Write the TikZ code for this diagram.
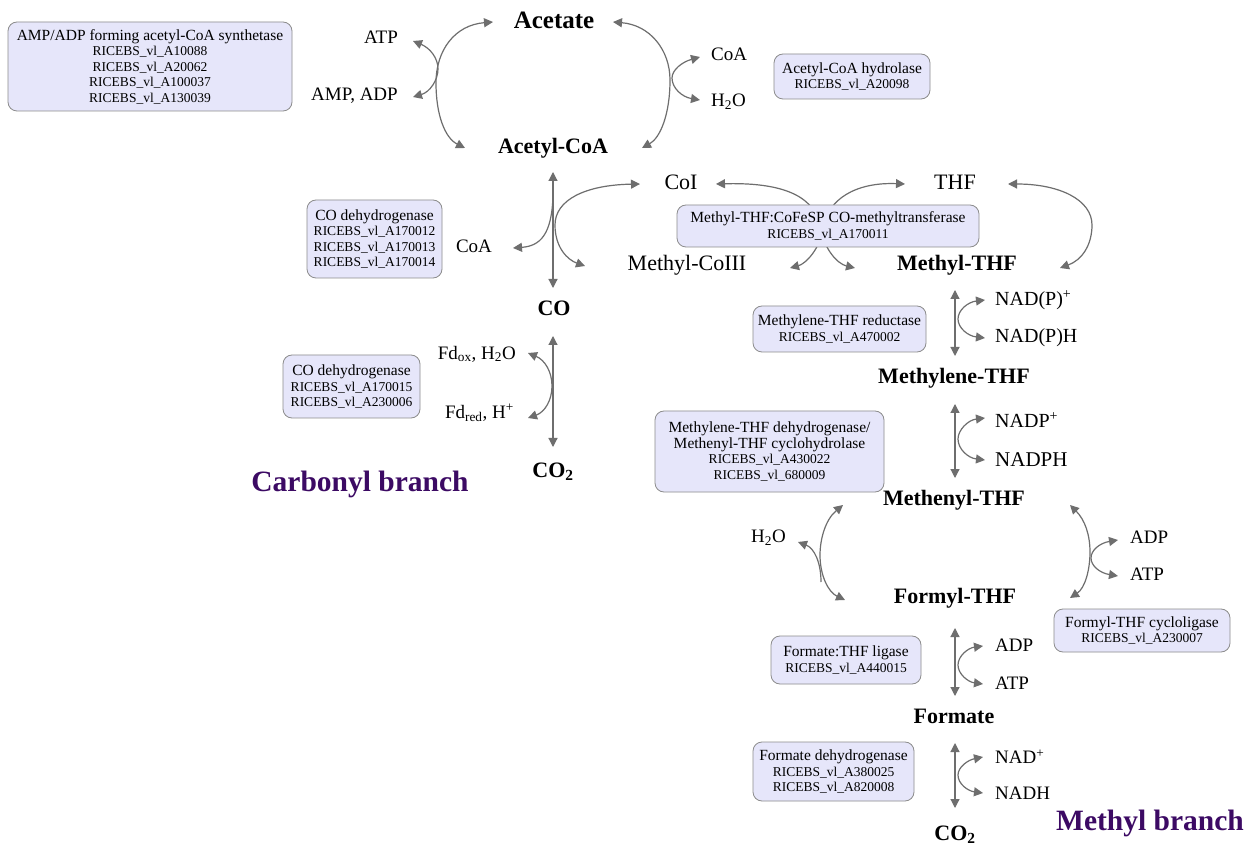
\documentclass[tikz,border=0pt]{standalone}
\usepackage{fontspec}
\setmainfont{Liberation Serif}
\usetikzlibrary{arrows.meta}
\definecolor{lav}{RGB}{230,230,250}
\definecolor{bord}{RGB}{140,140,140}
\definecolor{arr}{RGB}{110,110,110}
\definecolor{purp}{RGB}{60,10,100}
\newcommand{\enzname}[1]{{\fontsize{15.5}{16}\selectfont #1}}
\begin{document}
\begin{tikzpicture}[x=1pt,y=-1pt,
 met/.style={inner sep=0pt,font=\fontsize{22}{24}\selectfont\bfseries},
 lab/.style={inner sep=0pt,font=\fontsize{19}{21}\selectfont},
 labl/.style={inner sep=0pt,font=\fontsize{22}{24}\selectfont},
 br/.style={inner sep=0pt,text=purp,font=\fontsize{29.5}{31}\selectfont\bfseries},
 enz/.style={draw=bord,fill=lav,rounded corners=9pt,align=center,inner sep=0pt,line width=0.8pt,font=\fontsize{13.5}{15.5}\selectfont},
 tip/.tip={Triangle[length=9pt,width=9pt]},
 rx/.style={draw=arr,line width=1.2pt,tip-tip},
 rx1/.style={draw=arr,line width=1.2pt,-tip},
]
\path[fill=white,use as bounding box] (0,0) rectangle (1254,850);

% ---------- metabolites ----------
\node[met,font=\fontsize{25}{27}\selectfont\bfseries] (acetate) at (554,20) {Acetate};
\node[met] (acoa) at (553,148) {Acetyl-CoA};
\node[lab,anchor=east] (atp1) at (398,37) {ATP};
\node[lab,anchor=east] (ampadp) at (398,96) {AMP, ADP};
\node[lab,anchor=west] (coa1) at (711,54) {CoA};
\node[lab,anchor=west] (h2o1) at (711,102) {H\textsubscript{2}O};
\node[labl] (coi) at (681,182) {CoI};
\node[lab] (coa2) at (474,246) {CoA};
\node[labl] (mecoiii) at (687,265) {Methyl-CoIII};
\node[labl] (thf) at (955,182) {THF};
\node[met] (mthf) at (957,265) {Methyl-THF};
\node[met] (co) at (554,308) {CO};
\node[lab,anchor=east] (fdox) at (516,354) {Fd\textsubscript{ox}, H\textsubscript{2}O};
\node[lab,anchor=east] (fdred) at (514,413) {Fd\textsubscript{red}, H\textsuperscript{+}};
\node[met] (co2a) at (553,472) {CO\textsubscript{2}};
\node[br] (carb) at (360,484) {Carbonyl branch};

\node[lab,anchor=west,font=\fontsize{20}{22}\selectfont] (nadp1) at (995,300) {NAD(P)\textsuperscript{+}};
\node[lab,anchor=west,font=\fontsize{20}{22}\selectfont] (nadph1) at (995,338) {NAD(P)H};
\node[met] (methylene) at (954,378) {Methylene-THF};
\node[lab,anchor=west,font=\fontsize{20}{22}\selectfont] (nadp2) at (995,420) {NADP\textsuperscript{+}};
\node[lab,anchor=west,font=\fontsize{21}{23}\selectfont] (nadph2) at (995,460) {NADPH};
\node[met] (methenyl) at (954,500) {Methenyl-THF};
\node[lab,anchor=east] (h2o2) at (786,538) {H\textsubscript{2}O};
\node[met] (formyl) at (955,598) {Formyl-THF};
\node[lab,anchor=west] (adp1) at (1130,537) {ADP};
\node[lab,anchor=west] (atp2) at (1130,574) {ATP};
\node[lab,anchor=west] (adp2) at (995,645) {ADP};
\node[lab,anchor=west] (atp3) at (995,683) {ATP};
\node[met] (formate) at (954,716) {Formate};
\node[lab,anchor=west] (nad) at (995,757) {NAD\textsuperscript{+}};
\node[lab,anchor=west] (nadh) at (995,793) {NADH};
\node[met] (co2b) at (955,835) {CO\textsubscript{2}};
\node[br] (methylbr) at (1150,823) {Methyl branch};

% ---------- acetate / acetyl-CoA ----------
\draw[rx] ([shift={(-61,2)}]acetate.center) .. controls (455,25) and (436,50) .. (436,83) .. controls (436,115) and (445,138) .. ([shift={(-88,0)}]acoa.center);
\draw[rx] ([shift={(15,4)}]atp1.east) .. controls (430,48) and (438,58) .. (438,69) .. controls (438,80) and (430,92) .. ([shift={(15,1)}]ampadp.east);
\draw[rx] ([shift={(59,2)}]acetate.center) .. controls (650,25) and (670,50) .. (670,80) .. controls (670,115) and (660,138) .. ([shift={(89,0)}]acoa.center);
\draw[rx] ([shift={(-11,3)}]coa1.west) .. controls (682,62) and (672,70) .. (672,78) .. controls (672,88) and (682,97) .. ([shift={(-11,-2)}]h2o1.west);

% ---------- acetyl-CoA / CO ----------
\draw[rx] ([shift={(0,24)}]acoa.center) -- ([shift={(-1,-20)}]co.center);
\draw[rx1] ([shift={(0,47)}]acoa.center) .. controls (552,235) and (540,246) .. ([shift={(39,2)}]coa2.center);
\draw[rx] ([shift={(-41,2)}]coi.center) .. controls (585,185) and (555,200) .. (555,225) .. controls (555,248) and (568,260) .. ([shift={(-102,1)}]mecoiii.center);

% ---------- methyltransferase ----------
\draw[rx] ([shift={(35,2)}]coi.center) .. controls (790,182) and (815,200) .. (820,226) .. controls (824,250) and (838,264) .. ([shift={(-102,3)}]mthf.center);
\draw[rx] ([shift={(-50,2)}]thf.center) .. controls (855,182) and (828,200) .. (824,226) .. controls (820,250) and (805,264) .. ([shift={(103,3)}]mecoiii.center);
\draw[rx] ([shift={(53,2)}]thf.center) .. controls (1060,184) and (1092,200) .. (1092,225) .. controls (1092,245) and (1082,260) .. ([shift={(103,3)}]mthf.center);

% ---------- CO / CO2 ----------
\draw[rx] ([shift={(-1,28)}]co.center) -- ([shift={(0,-25)}]co2a.center);
\draw[rx] ([shift={(12,-1)}]fdox.east) .. controls (545,360) and (552,372) .. (552,386) .. controls (552,400) and (545,412) .. ([shift={(14,5)}]fdred.east);

% ---------- methyl branch ----------
\draw[rx] ([shift={(-2,25)}]mthf.center) -- ([shift={(1,-22)}]methylene.center);
\draw[rx] ([shift={(-10,0)}]nadp1.west) .. controls (968,302) and (958,310) .. (958,319) .. controls (958,328) and (968,336) .. ([shift={(-10,0)}]nadph1.west);
\draw[rx] ([shift={(1,26)}]methylene.center) -- ([shift={(1,-22)}]methenyl.center);
\draw[rx] ([shift={(-10,-2)}]nadp2.west) .. controls (968,420) and (958,430) .. (958,439) .. controls (958,449) and (968,458) .. ([shift={(-10,0)}]nadph2.west);
\draw[rx] ([shift={(-111,5)}]methenyl.center) .. controls (825,520) and (820,540) .. (820,555) .. controls (820,575) and (828,592) .. ([shift={(-110,2)}]formyl.center);
\draw[rx1] (821,582) .. controls (821,562) and (814,548) .. ([shift={(12,4)}]h2o2.east);
\draw[rx] ([shift={(116,5)}]methenyl.center) .. controls (1085,520) and (1090,535) .. (1090,552) .. controls (1090,570) and (1085,588) .. ([shift={(115,0)}]formyl.center);
\draw[rx] ([shift={(-12,3)}]adp1.west) .. controls (1100,543) and (1091,550) .. (1091,558) .. controls (1091,566) and (1100,573) .. ([shift={(-12,2)}]atp2.west);
\draw[rx] ([shift={(0,30)}]formyl.center) -- ([shift={(1,-20)}]formate.center);
\draw[rx] ([shift={(-12,1)}]adp2.west) .. controls (968,648) and (958,656) .. (958,665) .. controls (958,674) and (968,682) .. ([shift={(-12,1)}]atp3.west);
\draw[rx] ([shift={(1,27)}]formate.center) -- ([shift={(0,-27)}]co2b.center);
\draw[rx] ([shift={(-12,0)}]nad.west) .. controls (968,760) and (958,767) .. (958,775) .. controls (958,784) and (968,791) .. ([shift={(-12,0)}]nadh.west);

% ---------- enzymes ----------
\node[enz,minimum width=284pt,minimum height=89pt] (e1) at (150,66.5) {\enzname{AMP/ADP forming acetyl-CoA synthetase}\\RICEBS\_vl\_A10088\\RICEBS\_vl\_A20062\\RICEBS\_vl\_A100037\\RICEBS\_vl\_A130039};
\node[enz,minimum width=156pt,minimum height=45pt] (e2) at (852,76.5) {\enzname{Acetyl-CoA hydrolase}\\RICEBS\_vl\_A20098};
\node[enz,minimum width=135pt,minimum height=78pt] (e3) at (374.5,239) {\enzname{CO dehydrogenase}\\RICEBS\_vl\_A170012\\RICEBS\_vl\_A170013\\RICEBS\_vl\_A170014};
\node[enz,minimum width=302pt,minimum height=42pt] (e4) at (828,226) {\enzname{Methyl-THF:CoFeSP CO-methyltransferase}\\RICEBS\_vl\_A170011};
\node[enz,minimum width=173pt,minimum height=46pt] (e5) at (839.5,329) {\enzname{Methylene-THF reductase}\\RICEBS\_vl\_A470002};
\node[enz,minimum width=137pt,minimum height=63pt] (e6) at (351.5,386.5) {\enzname{CO dehydrogenase}\\RICEBS\_vl\_A170015\\RICEBS\_vl\_A230006};
\node[enz,minimum width=229pt,minimum height=81pt] (e7) at (769.5,451.5) {\enzname{Methylene-THF dehydrogenase/}\\\enzname{Methenyl-THF cyclohydrolase}\\RICEBS\_vl\_A430022\\RICEBS\_vl\_680009};
\node[enz,minimum width=176pt,minimum height=43pt] (e8) at (1142,630.5) {\enzname{Formyl-THF cycloligase}\\RICEBS\_vl\_A230007};
\node[enz,minimum width=150pt,minimum height=48pt] (e9) at (846,660) {\enzname{Formate:THF ligase}\\RICEBS\_vl\_A440015};
\node[enz,minimum width=161pt,minimum height=59pt] (e10) at (833.5,771.5) {\enzname{Formate dehydrogenase}\\RICEBS\_vl\_A380025\\RICEBS\_vl\_A820008};
\end{tikzpicture}
\end{document}
